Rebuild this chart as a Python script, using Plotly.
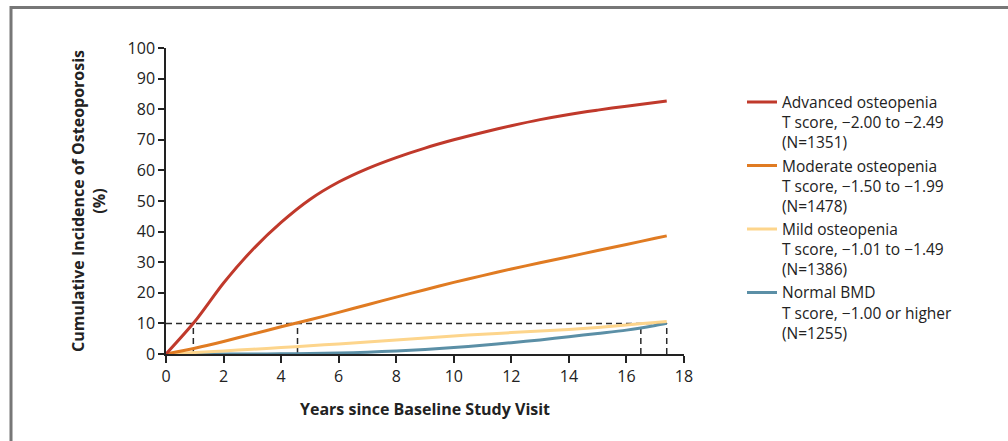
import plotly.graph_objects as go

years = [0, 1, 2, 3, 4, 5, 6, 7, 8, 9, 10, 11, 12, 13, 14, 15, 16, 17, 17.4]
advanced = [0, 10.6, 23.2, 34.0, 43.0, 50.5, 56.2, 60.6, 64.2, 67.3, 70.0, 72.4, 74.6, 76.6, 78.3, 79.7, 81.0, 82.2, 82.7]
moderate = [0, 1.9, 4.1, 6.5, 8.9, 11.2, 13.6, 16.1, 18.6, 21.0, 23.4, 25.6, 27.8, 29.8, 31.8, 33.8, 35.8, 37.8, 38.6]
mild = [0, 0.5, 1.0, 1.55, 2.1, 2.7, 3.3, 3.95, 4.6, 5.25, 5.9, 6.45, 7.0, 7.5, 8.0, 8.7, 9.5, 10.3, 10.6]
normal = [0, 0, 0, 0.02, 0.05, 0.15, 0.3, 0.6, 1.0, 1.5, 2.1, 2.85, 3.7, 4.6, 5.65, 6.7, 7.8, 9.3, 10.0]

series_names = [
    "Advanced osteopenia<br>T score, \u22122.00 to \u22122.49<br>(N=1351)",
    "Moderate osteopenia<br>T score, \u22121.50 to \u22121.99<br>(N=1478)",
    "Mild osteopenia<br>T score, \u22121.01 to \u22121.49<br>(N=1386)",
    "Normal BMD<br>T score, \u22121.00 or higher<br>(N=1255)",
]
series_values = [advanced, moderate, mild, normal]
series_colors = ["#C0392B", "#E07B22", "#FDD58C", "#5B8FA6"]

threshold = 10
threshold_years = [0.95, 4.57, 16.5, 17.4]
x_ticks = [0, 2, 4, 6, 8, 10, 12, 14, 16, 18]
y_ticks = [0, 10, 20, 30, 40, 50, 60, 70, 80, 90, 100]

fig = go.Figure()

# dashed reference lines
fig.add_trace(go.Scatter(x=[0, max(threshold_years)], y=[threshold, threshold], mode="lines",
                         line=dict(color="#2a2a2a", width=1.5, dash="6px,4px"),
                         showlegend=False, hoverinfo="skip"))
for ty in threshold_years:
    fig.add_trace(go.Scatter(x=[ty, ty], y=[0, threshold], mode="lines",
                             line=dict(color="#2a2a2a", width=1.5, dash="6px,4px"),
                             showlegend=False, hoverinfo="skip"))

# draw in reverse so red is on top, legend order kept
for name, vals, col in reversed(list(zip(series_names, series_values, series_colors))):
    fig.add_trace(go.Scatter(x=years, y=vals, mode="lines", name=name,
                             line=dict(color=col, width=3, shape="spline", smoothing=0.8)))

font_family = "'Open Sans', Lato, sans-serif"

L, T, W, H = 166, 48, 518, 306

fig.update_layout(
    width=1008, height=441,
    margin=dict(l=L, r=1008 - L - W, t=T, b=441 - T - H),
    paper_bgcolor="white", plot_bgcolor="white",
    font=dict(family=font_family, size=15, color="#222222"),
    legend=dict(x=(742 - L) / W, y=(T + H - 85.5) / H, xanchor="left", yanchor="top",
                traceorder="reversed", font=dict(size=15.5, color="#222222"),
                valign="top", itemwidth=30, bgcolor="rgba(0,0,0,0)"),
    xaxis=dict(range=[0, 18], tickvals=x_ticks, showgrid=False, zeroline=False,
               showline=True, linecolor="#222222", linewidth=1.5,
               ticks="outside", ticklen=7, tickwidth=1.5, tickcolor="#222222",
               tickfont=dict(size=16),
               title=dict(text="<b>Years since Baseline Study Visit</b>", font=dict(size=16), standoff=18)),
    yaxis=dict(range=[0, 100], tickvals=y_ticks, showgrid=False, zeroline=False,
               showline=True, linecolor="#222222", linewidth=1.5,
               ticks="outside", ticklen=6, tickwidth=1.5, tickcolor="#222222",
               tickfont=dict(size=16),
               title=dict(text="<b>Cumulative Incidence of Osteoporosis<br>(%)</b>", font=dict(size=16), standoff=18)),
    shapes=[
        dict(type="line", xref="paper", yref="paper", x0=(10 - L) / W, x1=(1010 - L) / W,
             y0=(T + H - 7.5) / H, y1=(T + H - 7.5) / H, line=dict(color="#777777", width=3)),
        dict(type="line", xref="paper", yref="paper", x0=(11 - L) / W, x1=(11 - L) / W,
             y0=(T + H - 6) / H, y1=(T + H - 445) / H, line=dict(color="#777777", width=3)),
    ],
)

fig.write_html("out.html", config={"displayModeBar": False},
               post_script="document.body.style.margin='0px';")
